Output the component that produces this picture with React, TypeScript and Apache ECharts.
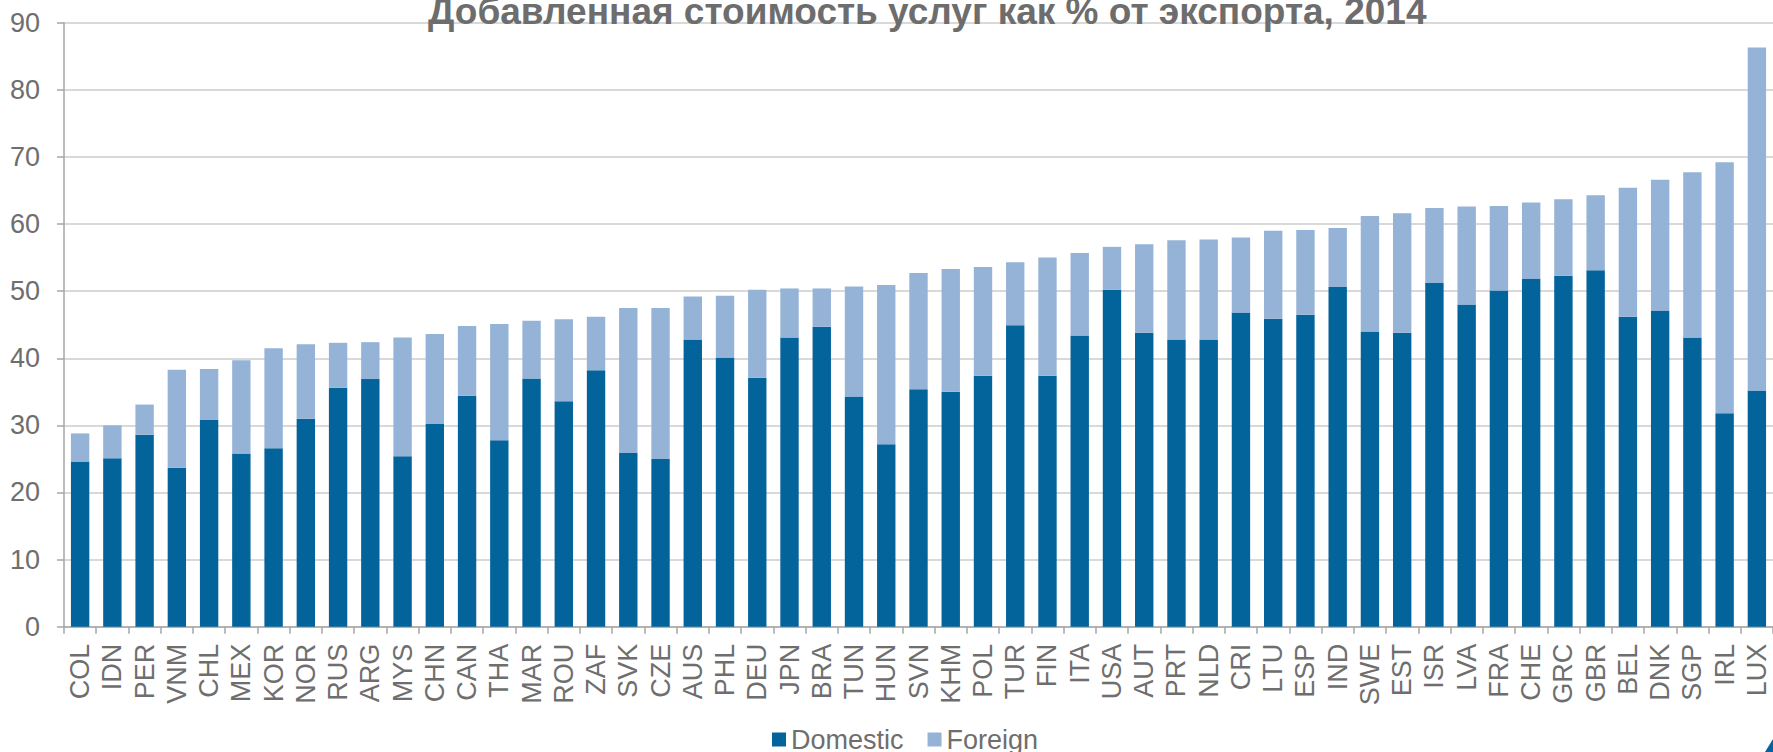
import React, { useEffect, useRef } from "react";
import * as echarts from "echarts";

const countries = [
  "COL", "IDN", "PER", "VNM", "CHL", "MEX", "KOR", "NOR", "RUS", "ARG",
  "MYS", "CHN", "CAN", "THA", "MAR", "ROU", "ZAF", "SVK", "CZE", "AUS",
  "PHL", "DEU", "JPN", "BRA", "TUN", "HUN", "SVN", "KHM", "POL", "TUR",
  "FIN", "ITA", "USA", "AUT", "PRT", "NLD", "CRI", "LTU", "ESP", "IND",
  "SWE", "EST", "ISR", "LVA", "FRA", "CHE", "GRC", "GBR", "BEL", "DNK",
  "SGP", "IRL", "LUX",
];

const domestic = [
  24.6, 25.1, 28.6, 23.7, 30.8, 25.8, 26.6, 31.0, 35.6, 36.9,
  25.4, 30.2, 34.4, 27.8, 37.0, 33.6, 38.2, 25.9, 25.0, 42.8,
  40.1, 37.1, 43.1, 44.7, 34.3, 27.2, 35.4, 35.0, 37.4, 44.9,
  37.4, 43.4, 50.2, 43.8, 42.8, 42.8, 46.8, 45.9, 46.5, 50.6,
  44.0, 43.8, 51.2, 48.0, 50.1, 51.9, 52.3, 53.1, 46.2, 47.1,
  43.1, 31.8, 35.2,
];

const foreign = [
  4.2, 4.9, 4.5, 14.6, 7.6, 13.9, 14.9, 11.1, 6.7, 5.5,
  17.7, 13.4, 10.4, 17.3, 8.6, 12.2, 8.0, 21.6, 22.5, 6.4,
  9.2, 13.1, 7.3, 5.7, 16.4, 23.7, 17.3, 18.3, 16.2, 9.4,
  17.6, 12.3, 6.4, 13.2, 14.8, 14.9, 11.2, 13.1, 12.6, 8.8,
  17.2, 17.8, 11.2, 14.6, 12.6, 11.3, 11.4, 11.2, 19.2, 19.5,
  24.6, 37.4, 51.1,
];

const seriesNames = ["Domestic", "Foreign"];
const titleText = "Добавленная стоимость услуг как % от экспорта, 2014";

const FONT = "'Liberation Sans', Arial, sans-serif";
const GRAY = "#6e6e6e";

export default function App() {
  const ref = useRef<HTMLDivElement>(null);

  useEffect(() => {
    if (!ref.current) return;
    const chart = echarts.init(ref.current, null, { renderer: "svg" });
    chart.setOption({
      animation: false,
      backgroundColor: "#ffffff",
      textStyle: { fontFamily: FONT },
      title: {
        text: titleText,
        left: 428,
        top: -7,
        padding: 0,
        textStyle: {
          fontFamily: FONT,
          fontSize: 37,
          fontWeight: "bold",
          color: "#6d6d6d",
        },
      },
      legend: {
        data: seriesNames,
        left: 772,
        top: 726,
        padding: 0,
        icon: "rect",
        itemWidth: 14,
        itemHeight: 14,
        itemGap: 24,
        textStyle: { fontFamily: FONT, fontSize: 27, color: GRAY },
      },
      grid: { left: 64, right: -7, top: 22.7, bottom: 125.3, containLabel: false },
      xAxis: {
        type: "category",
        data: countries,
        axisLine: { show: true, lineStyle: { color: "#a6a6a6", width: 1.5 } },
        axisTick: { show: true, length: 7, lineStyle: { color: "#a6a6a6", width: 1.5 } },
        axisLabel: {
          interval: 0,
          rotate: 90,
          margin: 17,
          fontSize: 27,
          color: GRAY,
          fontFamily: FONT,
        },
      },
      yAxis: {
        type: "value",
        min: 0,
        max: 90,
        interval: 10,
        axisLine: { show: true, lineStyle: { color: "#a6a6a6", width: 1.5 } },
        axisTick: { show: true, length: 7, lineStyle: { color: "#a6a6a6", width: 1.5 } },
        axisLabel: { fontSize: 27, color: GRAY, margin: 24, fontFamily: FONT },
        splitLine: { show: true, lineStyle: { color: "#d9d9d9", width: 2 } },
      },
      series: [
        {
          name: seriesNames[0],
          type: "bar",
          stack: "total",
          data: domestic,
          barWidth: "57%",
          itemStyle: { color: "#03639b" },
        },
        {
          name: seriesNames[1],
          type: "bar",
          stack: "total",
          data: foreign,
          barWidth: "57%",
          itemStyle: { color: "#95b3d7" },
        },
      ],
      graphic: [
        {
          type: "polygon",
          silent: true,
          shape: { points: [[1765, 752], [1773, 739], [1773, 752]] },
          style: { fill: "#0a5f9e" },
        },
      ],
    });
    return () => chart.dispose();
  }, []);

  return (
    <div
      ref={ref}
      style={{ position: "absolute", left: 0, top: 0, width: 1773, height: 752 }}
    />
  );
}
